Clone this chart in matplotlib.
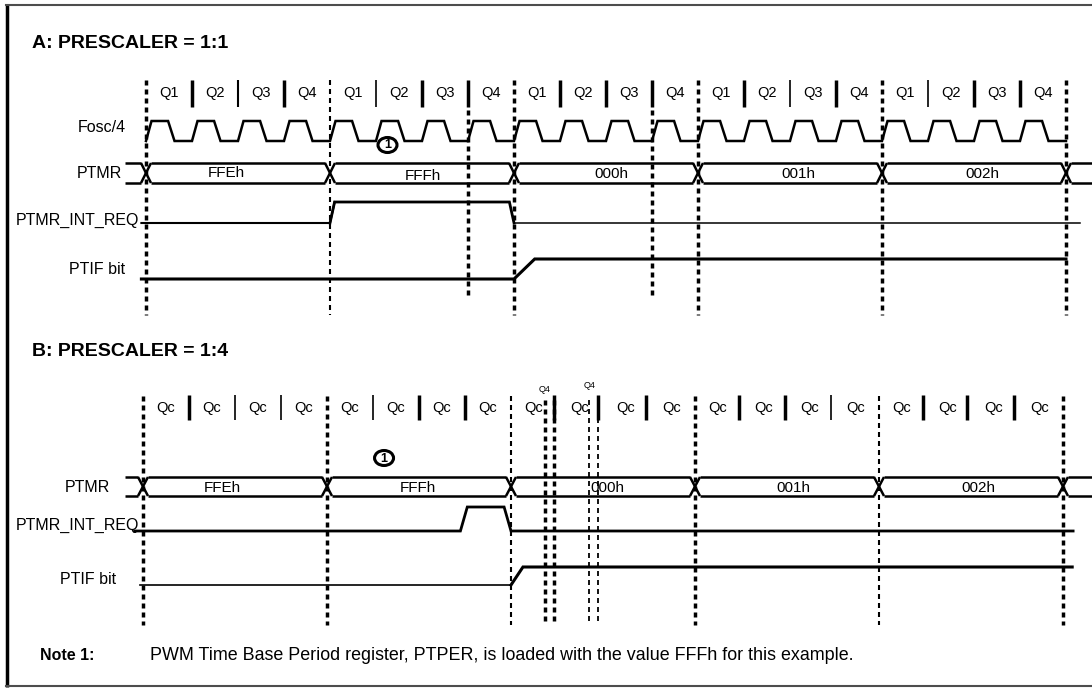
import matplotlib
matplotlib.use("Agg")
import matplotlib.pyplot as plt
from matplotlib.patches import Ellipse

plt.rcParams['font.family'] = ['Liberation Sans', 'DejaVu Sans']

# ---- data: time is counted in Q states (4 per instruction cycle) ----
n_cycles = 5
q_names_a = ["Q1", "Q2", "Q3", "Q4"]
q_names_b = ["Qc", "Qc", "Qc", "Qc"]
ptmr_values = ["FFEh", "FFFh", "000h", "001h", "002h"]

# one Fosc/4 period, (time, level)
fosc_period = [(0.0, 0), (0.12, 1), (0.48, 1), (0.62, 0), (1.0, 0)]

# (time, level) of the single-bit signals
int_req_a = [(-0.1, 0), (4.0, 0), (4.1, 1), (7.9, 1), (8.0, 0), (20.3, 0)]
ptif_a = [(-0.1, 0), (8.0, 0), (8.45, 1), (20.0, 1)]
int_req_b = [(-0.18, 0), (6.9, 0), (7.05, 1), (7.85, 1), (8.0, 0), (20.22, 0)]
ptif_b = [(-0.06, 0), (8.0, 0), (8.26, 1), (20.2, 1)]

mid_marks_a = [7, 11]
q4_marks_b = [8.74, 8.93, 9.7, 9.89]
note_q = 5.25

# ---- layout (pixels) ----
W, H = 1092, 695
QW = 46
fig = plt.figure(figsize=(W / 100, H / 100), dpi=100)

bg = fig.add_axes([0, 0, 1, 1])
bg.set_xlim(0, W)
bg.set_ylim(H, 0)
bg.axis('off')


def panel_axes(x0):
    ax = fig.add_axes([0, 0, 1, 1])
    ax.set_xlim(-x0 / QW, (W - x0) / QW)
    ax.set_ylim(H, 0)
    ax.axis('off')
    ax.patch.set_alpha(0)
    return ax


axA = panel_axes(146)
axB = panel_axes(143)
D = 5 / QW  # half width of a bus crossing


def vdash(ax, q, y0, y1, lw, dash=5, gap=4):
    ax.plot([q, q], [y0, y1], color='k', lw=lw,
            dashes=(dash * 0.72 / lw, gap * 0.72 / lw), dash_capstyle='butt')


def q_row(ax, names, y, sep, sep_lw, shift=None):
    shift = shift or {}
    for c in range(n_cycles):
        for k, name in enumerate(names):
            q = 4 * c + k
            ax.text(q + 0.5, y, name, ha='center', va='center', fontsize=10.5)
            if k > 0:
                qs = q + shift.get(q, 0)
                ax.plot([qs, qs], sep, color='k', lw=sep_lw[c][k - 1],
                        solid_capstyle='butt')


def level(ax, pts, ylow, yhigh, lw):
    xs = [p[0] for p in pts]
    ys = [ylow + (yhigh - ylow) * p[1] for p in pts]
    ax.plot(xs, ys, color='k', lw=lw, solid_joinstyle='miter')


def bus(ax, ytop, ybot, values, start, end, dx, dy, lw=1.8):
    edges = [4 * c for c in range(n_cycles + 1)]
    ymid = (ytop + ybot) / 2
    kw = dict(color='k', lw=lw, solid_capstyle='butt')
    for y in (ytop, ybot):
        ax.plot([start, edges[0] - D], [y, y], **kw)
        ax.plot([edges[-1] + D, end], [y, y], **kw)
        for a, b in zip(edges[:-1], edges[1:]):
            ax.plot([a + D, b - D], [y, y], **kw)
    for e in edges:
        ax.plot([e - D, e + D], [ytop, ybot], **kw)
        ax.plot([e - D, e + D], [ybot, ytop], **kw)
    for i, v in enumerate(values):
        ax.text(2 + 4 * i + dx[i] / QW, ymid + dy[i], v, ha='center',
                va='center', fontsize=11)


def note_mark(ax, q, y):
    ax.add_patch(Ellipse((q, y), 19 / QW, 15, fc='white', ec='k', lw=2.2, zorder=5))
    ax.text(q, y + 0.5, "1", ha='center', va='center', fontsize=9,
            fontweight='bold', zorder=6)


# ---- panel A ----
q_row(axA, q_names_a, 93, (80, 107),
      [[2.5, 1.5, 2.5], [1.2, 2.5, 2.5], [2.5, 2.5, 2.5], [2.5, 1.2, 2.5], [1.2, 2.5, 2.5]])
for c, lw in enumerate([2.5, 1.5, 2.5, 2.5, 2.5, 2.5]):
    vdash(axA, 4 * c, 80, 315, lw)
for q in mid_marks_a:
    vdash(axA, q, 110, 296, 2.5)

clk = []
for q in range(4 * n_cycles):
    clk += [(q + t, v) for t, v in fosc_period]
level(axA, clk, 141, 121, 1.8)
note_mark(axA, note_q, 145)

bus(axA, 163, 183, ptmr_values, -0.46, 20.6,
    [-12, 1, 5, 8, 8], [0, 3, 1, 1, 1])
level(axA, int_req_a[:3], 223, 202, 1.5)
level(axA, int_req_a[1:5], 223, 202, 2.0)
level(axA, int_req_a[4:], 223, 202, 1.1)
level(axA, ptif_a, 279, 259, 2.2)

# ---- panel B ----
q_row(axB, q_names_b, 408, (395, 420),
      [[2.5, 1.2, 1.2], [1.2, 2.5, 2.5], [2.5, 2.5, 2.5], [2.5, 2.5, 1.2], [2.5, 2.5, 2.5]],
      shift={9: -0.07, 10: -0.11, 11: -0.07, 13: -0.05, 14: -0.05, 15: -0.05,
             17: -0.04, 18: -0.08, 19: -0.06})
for c, lw in enumerate([2.5, 2.5, 1.5, 2.5, 1.5, 2.5]):
    vdash(axB, 4 * c, 396, 625, lw)
for q, lw in zip(q4_marks_b, [2.5, 2.5, 1.3, 1.3]):
    vdash(axB, q, 400, 622, lw)
axB.text(q4_marks_b[0], 389, "Q4", ha='center', va='center', fontsize=6.5)
axB.text(q4_marks_b[2], 386, "Q4", ha='center', va='center', fontsize=6.5)
note_mark(axB, note_q - 0.01, 458)

bus(axB, 477, 496, ptmr_values, -0.4, 20.7,
    [-13, -1, 4, 6, 7], [1.5, 2, 1.5, 1.5, 1.5])
level(axB, int_req_b, 531, 507, 2.0)
level(axB, ptif_b[:2], 585, 567, 1.2)
level(axB, ptif_b[1:], 585, 567, 2.2)

# ---- labels, frame, note ----
lab = dict(ha='right', va='center', fontsize=11.5)
bg.text(126, 127, "Fosc/4", **lab)
bg.text(122, 173, "PTMR", **lab)
bg.text(139, 220, "PTMR_INT_REQ", **lab)
bg.text(125, 270, "PTIF bit", **lab)
bg.text(110, 487, "PTMR", **lab)
bg.text(139, 525, "PTMR_INT_REQ", **lab)
bg.text(116, 580, "PTIF bit", **lab)

bg.text(32, 43, "A: PRESCALER = 1:1", fontsize=14, fontweight='bold', va='center')
bg.text(32, 352, "B: PRESCALER = 1:4", fontsize=14, fontweight='bold', va='center')

bg.text(40, 655, "Note 1:", fontsize=11.5, fontweight='bold', va='center')
bg.text(150, 655, "PWM Time Base Period register, PTPER, is loaded with the value "
        "FFFh for this example.", fontsize=12.9, va='center')

bg.plot([7, 7], [4, 687], color='k', lw=2.5, solid_capstyle='butt')
bg.plot([6, W], [5, 5], color='0.3', lw=1.5)
bg.plot([6, W], [686, 686], color='0.3', lw=1.5)

fig.savefig("out.png", dpi=100)
